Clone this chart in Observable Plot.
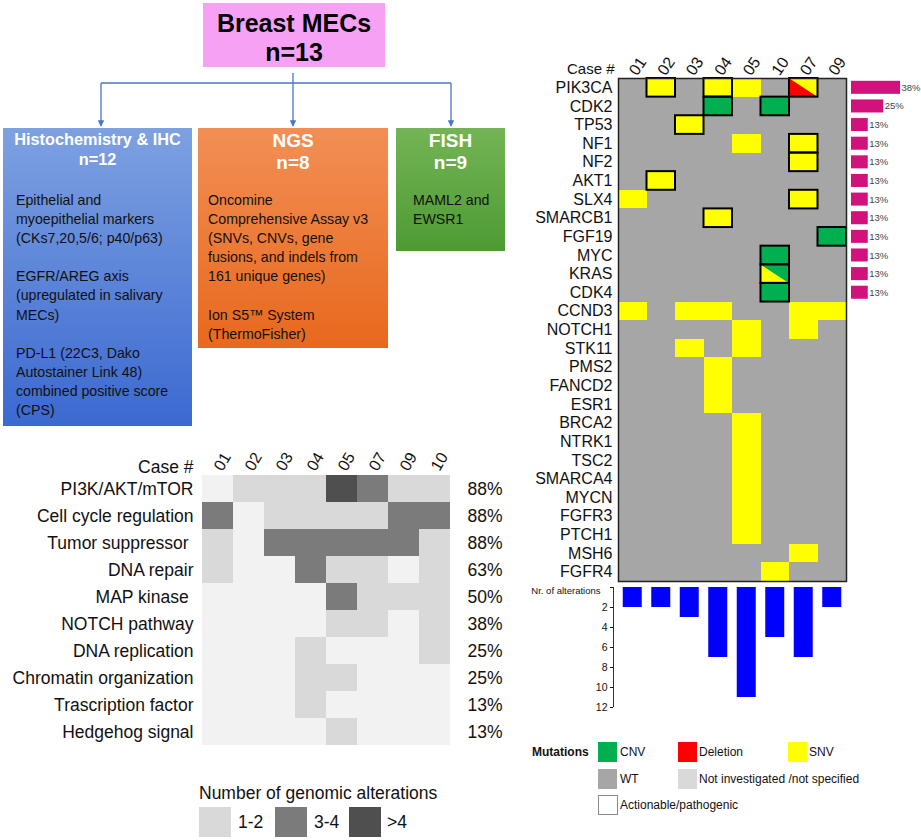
<!DOCTYPE html>
<html><head><meta charset="utf-8">
<script src="https://cdn.jsdelivr.net/npm/d3@7"></script>
<script src="https://cdn.jsdelivr.net/npm/@observablehq/plot@0.6"></script>
<style>
body{margin:0;width:921px;height:840px;position:relative;background:#fff;font-family:"Liberation Sans",Arial,sans-serif;overflow:hidden;color:#111}
.abs{position:absolute}
.box{position:absolute;box-sizing:border-box;color:#111;font-size:14.2px;line-height:19.1px}
.box .t{color:#fff;font-weight:bold;text-align:center}
.sw{position:absolute;width:19px;height:20px;box-sizing:border-box}
.lab{position:absolute;font-size:12px;line-height:14px;white-space:nowrap}
.gsw{position:absolute;width:32px;height:30px;top:807px}
.glab{position:absolute;font-size:17.5px;line-height:20px;top:812px}
</style></head><body>

<!-- flow chart -->
<div class="box" style="left:203px;top:3px;width:182px;height:64px;background:#f7a1f5;text-align:center;font-weight:bold;font-size:25px;line-height:29px;padding-top:6px;color:#000">Breast MECs<br>n=13</div>
<svg class="abs" style="left:0;top:0" width="520" height="130">
  <defs><marker id="ar" viewBox="0 0 10 10" refX="9" refY="5" markerWidth="5" markerHeight="5" orient="auto"><path d="M0,0L10,5L0,10z" fill="#4a76c8"/></marker></defs>
  <g stroke="#4a76c8" stroke-width="1.3" fill="none">
    <path d="M293,73V126" marker-end="url(#ar)"/>
    <path d="M101,83H451"/>
    <path d="M101,83V126" marker-end="url(#ar)"/>
    <path d="M451,83V126" marker-end="url(#ar)"/>
  </g>
</svg>
<div class="box" style="left:3px;top:128px;width:189px;height:298px;background:linear-gradient(#7ea1e1,#3b69d0);padding:1px 0 0 13px">
  <div class="t" style="font-size:16.3px;line-height:20px;margin-left:-13px">Histochemistry &amp; IHC<br>n=12</div>
  <div style="margin-top:22px">Epithelial and<br>myoepithelial markers<br>(CKs7,20,5/6; p40/p63)<br><br>EGFR/AREG axis<br>(upregulated in salivary<br>MECs)<br><br>PD-L1 (22C3, Dako<br>Autostainer Link 48)<br>combined positive score<br>(CPS)</div>
</div>
<div class="box" style="left:198px;top:128px;width:190px;height:220px;background:linear-gradient(#f28f55,#e8681d);padding:2px 0 0 10px">
  <div class="t" style="font-size:19px;line-height:22px;margin-left:-10px">NGS<br>n=8</div>
  <div style="margin-top:17px">Oncomine<br>Comprehensive Assay v3<br>(SNVs, CNVs, gene<br>fusions, and indels from<br>161 unique genes)<br><br>Ion S5™ System<br>(ThermoFisher)</div>
</div>
<div class="box" style="left:396px;top:128px;width:109px;height:123px;background:linear-gradient(#74b456,#4d9b33);padding:2px 0 0 17px">
  <div class="t" style="font-size:19px;line-height:22px;margin-left:-17px">FISH<br>n=9</div>
  <div style="margin-top:17px">MAML2 and<br>EWSR1</div>
</div>

<div id="heat" class="abs" style="left:0;top:430px"></div>
<div id="onco" class="abs" style="left:520px;top:0"></div>
<div id="freq" class="abs" style="left:846px;top:0"></div>
<div id="bars" class="abs" style="left:520px;top:580px"></div>

<!-- genomic alterations legend -->
<div class="abs" style="left:199px;top:783px;font-size:17.5px;line-height:20px">Number of genomic alterations</div>
<div class="gsw" style="left:199px;background:#d9d9d9"></div><div class="glab" style="left:238px">1-2</div>
<div class="gsw" style="left:275px;background:#7b7b7b"></div><div class="glab" style="left:314px">3-4</div>
<div class="gsw" style="left:349px;background:#4f4f4f"></div><div class="glab" style="left:387px">&gt;4</div>

<!-- mutations legend -->
<div class="lab" style="left:532px;top:745px;font-weight:bold">Mutations</div>
<div class="sw" style="left:598px;top:742px;background:#00b050"></div><div class="lab" style="left:620px;top:745px">CNV</div>
<div class="sw" style="left:678px;top:742px;background:#ff0000"></div><div class="lab" style="left:699px;top:745px">Deletion</div>
<div class="sw" style="left:788px;top:742px;background:#ffff00"></div><div class="lab" style="left:809px;top:745px">SNV</div>
<div class="sw" style="left:598px;top:769px;background:#a6a6a6"></div><div class="lab" style="left:620px;top:772px">WT</div>
<div class="sw" style="left:678px;top:769px;background:#d9d9d9"></div><div class="lab" style="left:699px;top:772px">Not investigated /not specified</div>
<div class="sw" style="left:598px;top:795px;background:#fff;border:1.5px solid #8a8a8a;width:20px"></div><div class="lab" style="left:620px;top:798px">Actionable/pathogenic</div>

<script>
// ---------- data: pathway heatmap ----------
const casesPath = ["01","02","03","04","05","07","09","10"];
const pathways = ["PI3K/AKT/mTOR","Cell cycle regulation","Tumor suppressor ","DNA repair","MAP kinase ","NOTCH pathway","DNA replication","Chromatin organization","Trascription factor","Hedgehog signal"];
// 0 = none, 1 = "1-2", 2 = "3-4", 3 = ">4"
const pathwayLevels = [
  [0,1,1,1,3,2,1,1],
  [2,0,1,1,1,1,2,2],
  [1,0,2,2,2,2,2,1],
  [1,0,0,2,1,1,0,1],
  [0,0,0,0,2,1,1,1],
  [0,0,0,0,1,1,0,1],
  [0,0,0,1,0,0,0,1],
  [0,0,0,1,1,0,0,0],
  [0,0,0,1,0,0,0,0],
  [0,0,0,0,1,0,0,0]
];
const pathwayPct = ["88%","88%","88%","63%","50%","38%","25%","25%","13%","13%"];
const levelColors = ["#f2f2f2","#d9d9d9","#7b7b7b","#4f4f4f"];

// ---------- data: oncoprint ----------
const cases = ["01","02","03","04","05","10","07","09"];
const genes = ["PIK3CA","CDK2","TP53","NF1","NF2","AKT1","SLX4","SMARCB1","FGF19","MYC","KRAS","CDK4","CCND3","NOTCH1","STK11","PMS2","FANCD2","ESR1","BRCA2","NTRK1","TSC2","SMARCA4","MYCN","FGFR3","PTCH1","MSH6","FGFR4"];
const snv = [["PIK3CA","02"],["PIK3CA","04"],["PIK3CA","05"],["TP53","03"],["NF1","05"],["NF1","07"],["NF2","07"],["AKT1","02"],["SLX4","01"],["SLX4","07"],["SMARCB1","04"],["CCND3","01"],["CCND3","03"],["CCND3","04"],["CCND3","07"],["CCND3","09"],["NOTCH1","05"],["NOTCH1","07"],["STK11","03"],["STK11","05"],["PMS2","04"],["FANCD2","04"],["ESR1","04"],["BRCA2","05"],["NTRK1","05"],["TSC2","05"],["SMARCA4","05"],["MYCN","05"],["FGFR3","05"],["PTCH1","05"],["MSH6","07"],["FGFR4","10"]];
const cnv = [["CDK2","04"],["CDK2","10"],["FGF19","09"],["MYC","10"],["CDK4","10"]];
const split = [["PIK3CA","07","SNV","Deletion"],["KRAS","10","CNV","SNV"]]; // [gene, case, upper-right, lower-left]
const actionable = [["PIK3CA","02"],["PIK3CA","04"],["PIK3CA","07"],["CDK2","04"],["CDK2","10"],["TP53","03"],["NF1","07"],["NF2","07"],["AKT1","02"],["SLX4","07"],["SMARCB1","04"],["FGF19","09"],["MYC","10"],["KRAS","10"],["CDK4","10"]];
const freqGenes = ["PIK3CA","CDK2","TP53","NF1","NF2","AKT1","SLX4","SMARCB1","FGF19","MYC","KRAS","CDK4"];
const freqPct = [38,25,13,13,13,13,13,13,13,13,13,13];
const altCounts = [2,2,3,7,11,5,7,2];
const mutTypes = ["SNV","CNV","Deletion"];
const mutColors = ["#ffff00","#00b050","#ff0000"];

const font = "'Liberation Sans', Arial, sans-serif";
const baseStyle = {background:"transparent", overflow:"visible", fontFamily:font, color:"#111"};

// ---------- pathway heatmap ----------
const heatData = pathways.flatMap((p,i)=>casesPath.map((c,j)=>({pathway:p, case:c, level:pathwayLevels[i][j]})));
document.getElementById("heat").append(Plot.plot({
  width:520, height:320, marginLeft:198, marginRight:67, marginTop:42, marginBottom:2,
  style:baseStyle,
  x:{domain:casesPath, padding:0},
  y:{domain:pathways, padding:0},
  color:{type:"ordinal", domain:[0,1,2,3], range:levelColors},
  marks:[
    Plot.cell(heatData,{x:"case", y:"pathway", fill:"level", inset:0, shapeRendering:"crispEdges"}),
    Plot.axisX({anchor:"top", tickSize:0, tickPadding:3, tickRotate:-60, fontSize:16, label:null}),
    Plot.axisY({anchor:"left", tickSize:0, tickPadding:5, fontSize:17.5, label:null}),
    Plot.text(pathways,{y:d=>d, text:(d,i)=>pathwayPct[i], frameAnchor:"right", dx:49, textAnchor:"end", fontSize:17.5}),
    Plot.text(["Case #"],{frameAnchor:"top-left", dx:-5, dy:-12, textAnchor:"end", fontSize:17.5})
  ]
}));

// ---------- oncoprint ----------
const idx = (g,c)=>({gi:genes.indexOf(g), ci:cases.indexOf(c)});
const cells = [
  ...snv.map(([g,c])=>({...idx(g,c), type:"SNV"})),
  ...cnv.map(([g,c])=>({...idx(g,c), type:"CNV"})),
  ...split.map(([g,c,u])=>({...idx(g,c), type:u}))
];
const tri = split.flatMap(([g,c,u,l])=>{
  const {gi,ci} = idx(g,c);
  return [{x:ci,y:gi,key:g,type:l},{x:ci,y:gi+1,key:g,type:l},{x:ci+1,y:gi+1,key:g,type:l}];
});
const act = actionable.map(([g,c])=>idx(g,c));
document.getElementById("onco").append(Plot.plot({
  width:330, height:583, marginLeft:98, marginRight:4, marginTop:78, marginBottom:2,
  style:baseStyle,
  x:{domain:[0,cases.length]},
  y:{domain:[0,genes.length], reverse:true},
  color:{domain:mutTypes, range:mutColors},
  marks:[
    Plot.frame({fill:"#a6a6a6", stroke:null}),
    Plot.rect(cells,{x1:"ci", x2:d=>d.ci+1, y1:"gi", y2:d=>d.gi+1, fill:"type", shapeRendering:"crispEdges"}),
    Plot.line(tri,{x:"x", y:"y", z:"key", fill:"type", stroke:null}),
    Plot.rect(act,{x1:"ci", x2:d=>d.ci+1, y1:"gi", y2:d=>d.gi+1, fill:"none", stroke:"#000", strokeWidth:2}),
    Plot.frame({stroke:"#222", strokeWidth:1.5}),
    Plot.axisX({anchor:"top", ticks:d3.range(cases.length).map(i=>i+0.5), tickFormat:t=>cases[Math.floor(t)], tickSize:0, tickPadding:5, tickRotate:-55, fontSize:16, label:null}),
    Plot.axisY({anchor:"left", ticks:d3.range(genes.length).map(i=>i+0.5), tickFormat:t=>genes[Math.floor(t)], tickSize:0, tickPadding:6, fontSize:16, label:null}),
    Plot.text(["Case #"],{frameAnchor:"top-left", dx:-4, dy:-15, textAnchor:"end", fontSize:15})
  ]
}));

// ---------- frequency bars ----------
const freqData = freqGenes.map((g,i)=>({gi:genes.indexOf(g), pct:freqPct[i]}));
document.getElementById("freq").append(Plot.plot({
  width:75, height:583, marginLeft:5, marginRight:21, marginTop:78, marginBottom:2,
  style:baseStyle,
  x:{domain:[0,38], axis:null},
  y:{domain:[0,genes.length], reverse:true, axis:null},
  marks:[
    Plot.rect(freqData,{x1:0, x2:"pct", y1:"gi", y2:d=>d.gi+1, insetTop:2.8, insetBottom:2.8, fill:"#d1127c"}),
    Plot.text(freqData,{x:"pct", y:d=>d.gi+0.5, text:d=>d.pct+"%", dx:1, textAnchor:"start", fontSize:9.5, fill:"#444"})
  ]
}));

// ---------- number of alterations ----------
const barData = altCounts.map((n,i)=>({ci:i, n}));
document.getElementById("bars").append(Plot.plot({
  width:330, height:140, marginLeft:93, marginRight:4, marginTop:7, marginBottom:13,
  style:baseStyle,
  x:{domain:[0,cases.length], range:[98,326], axis:null},
  y:{domain:[0,12], reverse:true},
  marks:[
    Plot.rect(barData,{x1:"ci", x2:d=>d.ci+1, y1:0, y2:"n", insetLeft:4.75, insetRight:4.75, fill:"#0000ff"}),
    Plot.ruleX([0],{y1:0, y2:12, dx:-5, stroke:"#333", strokeWidth:1}),
    Plot.axisY({ticks:[0,2,4,6,8,10,12], tickFormat:d=>d===0?"":d, tickSize:3, tickPadding:3, fontSize:10.5, label:null}),
    Plot.text(["Nr. of alterations"],{frameAnchor:"top-left", dx:-13, textAnchor:"end", fontSize:9.5})
  ]
}));
</script>
</body></html>
